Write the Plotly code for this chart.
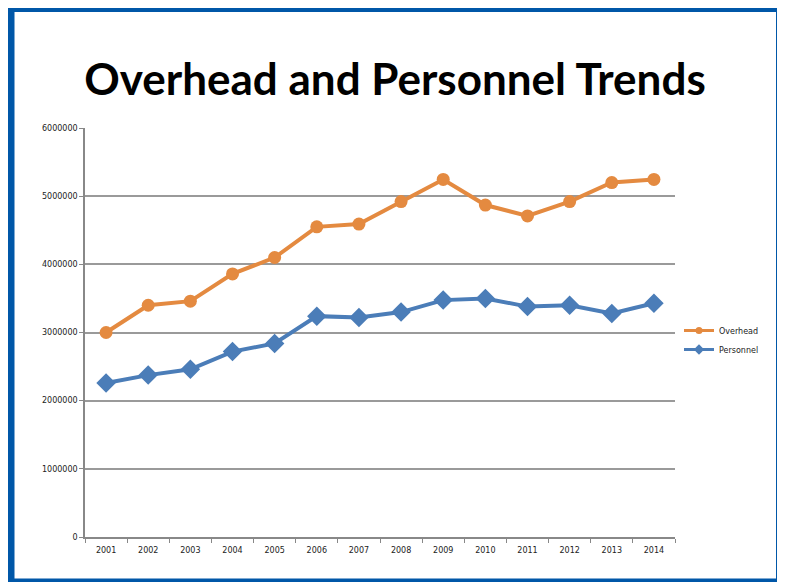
import plotly.graph_objects as go

years = ["2001", "2002", "2003", "2004", "2005", "2006", "2007",
         "2008", "2009", "2010", "2011", "2012", "2013", "2014"]
overhead = [3000000, 3400000, 3460000, 3860000, 4100000, 4550000, 4590000,
            4920000, 5245000, 4870000, 4710000, 4920000, 5200000, 5245000]
personnel = [2260000, 2375000, 2460000, 2720000, 2840000, 3240000, 3220000,
             3300000, 3475000, 3500000, 3380000, 3400000, 3280000, 3430000]
y_ticks = [0, 1000000, 2000000, 3000000, 4000000, 5000000, 6000000]

ORANGE = "#E48A40"
BLUE = "#4B7DB8"
FRAME = "#0057A8"
SMALL = dict(family="DejaVu Sans", size=8, color="#222222")

# page renders the figure offset by 8px (body margin)
OFF = 8
W, H = 785 - OFF, 582 - OFF
L, R, T, B = 85 - OFF, 110, 128 - OFF, 45
pw, ph = W - L - R, H - T - B


def px_x(p):
    return (p - OFF - L) / pw


def px_y(p):
    return (H - B - (p - OFF)) / ph


fig = go.Figure()
fig.add_trace(go.Scatter(
    x=years, y=overhead, name="Overhead", mode="lines+markers",
    line=dict(color=ORANGE, width=4),
    marker=dict(symbol="circle", size=13, color=ORANGE),
    showlegend=False,
))
fig.add_trace(go.Scatter(
    x=years, y=personnel, name="Personnel", mode="lines+markers",
    line=dict(color=BLUE, width=4),
    marker=dict(symbol="diamond", size=15, color=BLUE),
    showlegend=False,
))
# legend entries with small symbols
fig.add_trace(go.Scatter(
    x=[None], y=[None], name="Overhead", mode="lines+markers",
    line=dict(color=ORANGE, width=3),
    marker=dict(symbol="circle", size=7, color=ORANGE),
))
fig.add_trace(go.Scatter(
    x=[None], y=[None], name="Personnel", mode="lines+markers",
    line=dict(color=BLUE, width=3),
    marker=dict(symbol="diamond", size=8, color=BLUE),
))

# frame (four sides)
frame_sides = [
    (10.5, 0, 10.5, 600, 8),     # left
    (0, 8, 800, 8, 8),           # top
    (779.5, 0, 779.5, 600, 7),   # right
    (0, 582, 800, 582, 7),       # bottom
]
for x0, y0, x1, y1, w in frame_sides:
    fig.add_shape(type="line", xref="paper", yref="paper",
                  x0=px_x(x0), y0=px_y(y0), x1=px_x(x1), y1=px_y(y1),
                  line=dict(color=FRAME, width=w), layer="above")

fig.update_layout(
    width=W, height=H,
    margin=dict(l=L, r=R, t=T, b=B),
    paper_bgcolor="white", plot_bgcolor="white",
    title=dict(text="<b>Overhead and Personnel Trends</b>",
               x=(395 - OFF) / W, xanchor="center",
               y=1 - (80 - OFF) / H, yanchor="middle", yref="container",
               font=dict(family="Lato", size=44, color="black")),
    font=SMALL,
    showlegend=True,
    legend=dict(x=px_x(679), y=px_y(340), xanchor="left", yanchor="middle",
                font=SMALL, bgcolor="rgba(0,0,0,0)",
                tracegroupgap=2, itemwidth=30),
    xaxis=dict(type="category", range=[-0.5, len(years) - 0.5],
               showgrid=False, showline=True,
               linecolor="#888888", linewidth=1.5,
               ticks="outside", tickson="boundaries", ticklen=4,
               tickcolor="#888888", tickfont=SMALL, ticklabelstandoff=5),
    yaxis=dict(range=[0, 6000000], tickvals=y_ticks,
               ticktext=[f"{v}" for v in y_ticks],
               showgrid=True, gridcolor="#9A9A9A", gridwidth=1.5,
               showline=True, linecolor="#888888", linewidth=1.5,
               ticks="outside", ticklen=4, tickcolor="#888888",
               tickfont=SMALL, zeroline=False),
)

fig.write_html("out.html")
